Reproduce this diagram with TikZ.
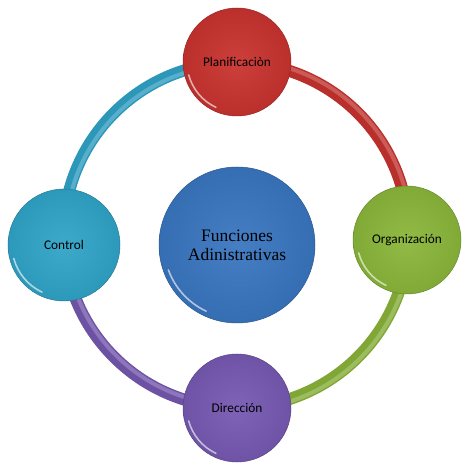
\documentclass[tikz,border=0pt]{standalone}
\usepackage{fontspec}
\setmainfont{Liberation Serif}
\newfontfamily\lblfont{Carlito}
\definecolor{cred}{HTML}{C9332F}
\definecolor{cgreen}{HTML}{8BB63A}
\definecolor{cpurple}{HTML}{7659B2}
\definecolor{ccyan}{HTML}{30A4C8}
\definecolor{cblue}{HTML}{3A76C0}
\tikzset{
  ball/.style={circle, draw=#1!75!black, line width=0.5pt,
    inner color=#1!94!white, outer color=#1!93!black,
    minimum size=108pt, inner sep=0pt, font=\lblfont\fontsize{13.3}{15}\selectfont, text=black},
  bigball/.style={ball=#1, minimum size=156pt, font=\fontsize{17.5}{19}\selectfont, align=center},
  tube/.style={line width=12pt, draw=#1!92!black},
  tubehi/.style={line width=4pt, draw=#1!60!white, opacity=0.5},
  rim/.style={white, opacity=0.6, line width=1.6pt, line cap=round},
}
\begin{document}
\begin{tikzpicture}[x=1pt,y=1pt]
\useasboundingbox (0,0) rectangle (463,466);
\coordinate (ring) at (236,231);
% ring segments
\draw[tube=cred] (236,403.5) arc[start angle=90,end angle=0,radius=172.5];
\draw[tube=cgreen] (408.5,231) arc[start angle=0,end angle=-90,radius=172.5];
\draw[tube=cpurple] (236,58.5) arc[start angle=-90,end angle=-180,radius=172.5];
\draw[tube=ccyan] (63.5,231) arc[start angle=180,end angle=90,radius=172.5];
\draw[tubehi=cred] (236,406) arc[start angle=90,end angle=0,radius=175];
\draw[tubehi=cgreen] (411,231) arc[start angle=0,end angle=-90,radius=175];
\draw[tubehi=cpurple] (236,61) arc[start angle=-90,end angle=-180,radius=170];
\draw[tubehi=ccyan] (66,231) arc[start angle=180,end angle=90,radius=170];
% shadows
\foreach \p/\r in {{237,218}/78,{237,55}/54,{407,224}/54,{64,218}/56} {
  \fill[black, opacity=0.06] (\p) circle[x radius=\r, y radius=\r*0.9];
}
% nodes
\node[ball=cred] (plan) at (237,404) {Planificaciòn};
\node[ball=cgreen] (org) at (407,226) {Organización};
\node[ball=ccyan, minimum size=112pt] (ctrl) at (64,221) {Control};
\node[ball=cpurple] (dir) at (237,58) {Dirección};
\node[bigball=cblue] (fun) at (237,221) {Funciones\\Adinistrativas};
% rim highlights
\draw[rim] (plan.center) ++(195:50) arc[start angle=195,end angle=245,radius=50];
\draw[rim] (org.center) ++(195:50) arc[start angle=195,end angle=245,radius=50];
\draw[rim] (ctrl.center) ++(195:52) arc[start angle=195,end angle=245,radius=52];
\draw[rim] (dir.center) ++(195:50) arc[start angle=195,end angle=245,radius=50];
\draw[rim] (fun.center) ++(200:73) arc[start angle=200,end angle=245,radius=73];
\end{tikzpicture}
\end{document}
